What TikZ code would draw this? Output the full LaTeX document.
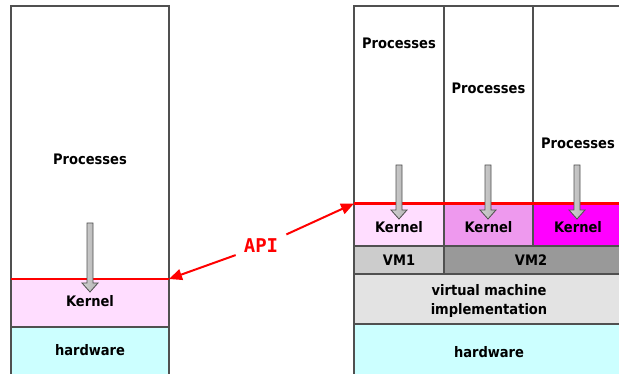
\documentclass[tikz,border=0pt]{standalone}
\usepackage{fontspec}
\setmainfont{DejaVu Sans Condensed}
\newfontfamily\apifont{DejaVu Sans Mono}
\usetikzlibrary{arrows.meta}
\definecolor{kerA}{HTML}{FFDDFF}
\definecolor{kerB}{HTML}{EE99EE}
\definecolor{kerC}{HTML}{FF00FF}
\definecolor{vmA}{HTML}{CCCCCC}
\definecolor{vmB}{HTML}{999999}
\definecolor{vmm}{HTML}{E3E3E3}
\definecolor{hw}{HTML}{CCFFFF}
\definecolor{edge}{HTML}{505050}
\tikzset{
  layer/.style={draw=edge, line width=1.1pt},
  lbl/.style={font=\fontsize{14.5}{15}\selectfont\bfseries, inner sep=1pt, align=center},
  apiline/.style={red, line width=2.2pt},
  apiarrow/.style={red, line width=2pt, -{Triangle[length=13pt,width=11pt]}},
}
% shaded downward call arrow: x centre, top of shaft, tip
\newcommand{\callarrow}[3]{%
  \shade[left color=gray!35, middle color=white, right color=gray!60, draw=edge, line width=0.8pt]
    (#1-3,#2) -- (#1+3,#2) -- (#1+3,#3-9) -- (#1+8,#3-9) -- (#1,#3) -- (#1-8,#3-9) -- (#1-3,#3-9) -- cycle;}
\begin{document}
\begin{tikzpicture}[x=1pt,y=-1pt]
\useasboundingbox (0,0) rectangle (619,374);
\clip (0,0) rectangle (619,374);

% ---- single system (left) ----
\draw[layer, fill=white] (11,6) rectangle (169,279);
\draw[layer, fill=kerA] (11,279) rectangle (169,327);
\draw[layer, fill=hw] (11,327) rectangle (169,380);
\draw[apiline] (11,279) -- (169,279);
\coordinate (apiL) at (169,279);
\callarrow{90}{223}{292}
\node[lbl] (procL) at (90,159) {Processes};
\node[lbl] (kerL) at (90,301) {Kernel};
\node[lbl] (hwL) at (90,350) {hardware};

% ---- virtual machines (right) ----
\draw[layer, fill=white] (354,6) rectangle (444,203.5);
\draw[layer, fill=white] (444,6) rectangle (533,203.5);
\draw[layer, fill=white] (533,6) rectangle (625,203.5);
\draw[layer, fill=kerA] (354,203.5) rectangle (444,246);
\draw[layer, fill=kerB] (444,203.5) rectangle (533,246);
\draw[layer, fill=kerC] (533,203.5) rectangle (625,246);
\draw[layer, fill=vmA] (354,246) rectangle (444,274);
\draw[layer, fill=vmB] (444,246) rectangle (625,274);
\draw[layer, fill=vmm] (354,274) rectangle (625,324);
\draw[layer, fill=hw] (354,324) rectangle (625,380);
\draw[apiline] (354,203.5) -- (625,203.5);
\coordinate (apiR) at (354,203.5);
\callarrow{399}{165}{219}
\callarrow{488}{165}{219}
\callarrow{577}{165}{219}
\node[lbl] (proc1) at (399,43) {Processes};
\node[lbl] (proc2) at (488.5,88) {Processes};
\node[lbl] (proc3) at (578,143) {Processes};
\node[lbl] (ker1) at (399,227) {Kernel};
\node[lbl] (ker2) at (488.5,227) {Kernel};
\node[lbl] (ker3) at (578,227) {Kernel};
\node[lbl] (vm1) at (399,260) {VM1};
\node[lbl] (vm2) at (531,260) {VM2};
\node[lbl, font=\fontsize{14.5}{19}\selectfont\bfseries] (vmimpl) at (489,301) {virtual machine\\implementation};
\node[lbl] (hwR) at (489,352) {hardware};

% ---- API label and pointers ----
\node[font=\apifont\fontsize{19}{20}\selectfont\bfseries, text=red, inner sep=8pt] (api) at (261,246) {API};
\draw[apiarrow] (api) -- (apiL);
\draw[apiarrow] (api) -- (apiR);
\end{tikzpicture}
\end{document}
